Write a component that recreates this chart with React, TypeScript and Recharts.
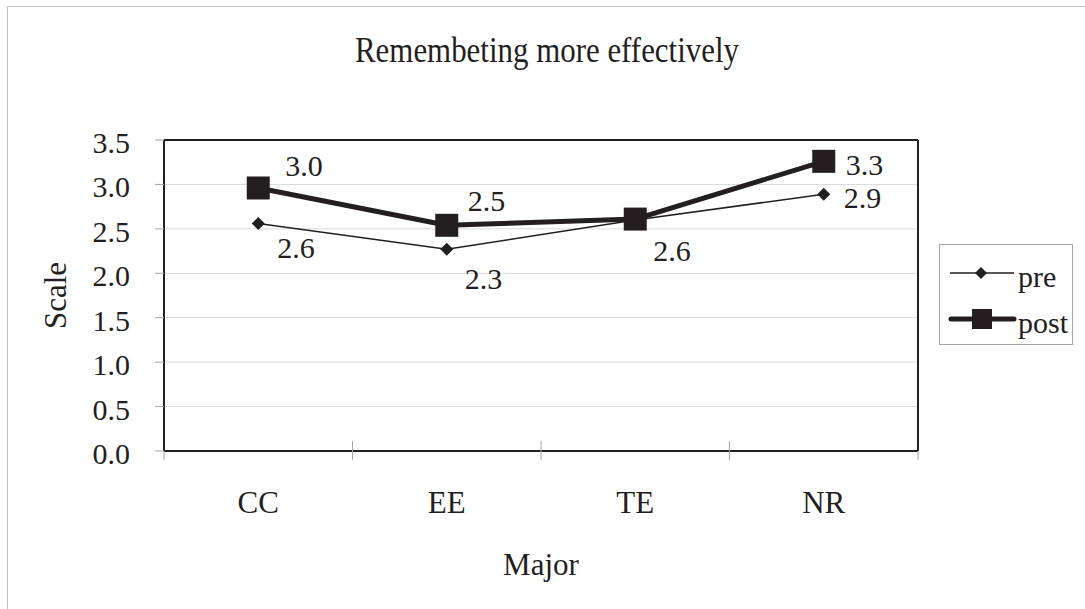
import React from 'react';
import { LineChart, Line, XAxis, YAxis, CartesianGrid, ReferenceLine, Legend, Label, LabelList } from 'recharts';

const categories = ['CC', 'EE', 'TE', 'NR'];
const preValues = [2.56, 2.27, 2.6, 2.89];
const postValues = [2.96, 2.54, 2.61, 3.26];
const preLabels = ['2.6', '2.3', '2.6', '2.9'];
const postLabels = ['3.0', '2.5', '', '3.3'];
const yTicks = [0, 0.5, 1, 1.5, 2, 2.5, 3, 3.5];
const seriesNames = ['pre', 'post'];
const titleText = 'Remembeting more effectively';
const xTitle = 'Major';
const yTitle = 'Scale';

const data = categories.map((c, i) => ({ cat: c, pos: i + 0.5, pre: preValues[i], post: postValues[i] }));
const xTickValues = categories.flatMap((_, i) => [i, i + 0.5]).concat([categories.length]);

const INK = '#231f20';
const FONT = '"Liberation Serif", "Times New Roman", serif';
const preOffsets = [[19, 34], [18, 40], [18, 41], [20, 14]];
const postOffsets = [[27, -12], [21, -14], [0, 0], [22, 14]];

const renderXTick = (p: any) => {
  const v = p.payload.value;
  const x = p.x;
  const y = p.y;
  if (Number.isInteger(v)) {
    const interior = v > 0 && v < categories.length;
    return <line x1={x} x2={x} y1={interior ? y - 10 : y} y2={y + 9} stroke="#a6a6a6" strokeWidth={1} />;
  }
  return (
    <text x={x} y={y + 62} textAnchor="middle" fontSize={31} fontFamily={FONT} fill={INK}>
      {categories[Math.floor(v)]}
    </text>
  );
};

const renderYTick = (p: any) => (
  <text x={p.x} y={p.y + 13} textAnchor="end" fontSize={30} fontFamily={FONT} fill={INK}>
    {Number(p.payload.value).toFixed(1)}
  </text>
);

const renderPreDot = (p: any) => {
  const { cx, cy, index } = p;
  const s = 6.5;
  return <polygon key={`pre-${index}`} points={`${cx},${cy - s} ${cx + s},${cy} ${cx},${cy + s} ${cx - s},${cy}`} fill={INK} />;
};

const renderPostDot = (p: any) => {
  const { cx, cy, index } = p;
  const s = 23;
  return <rect key={`post-${index}`} x={cx - s / 2} y={cy - s / 2} width={s} height={s} fill={INK} />;
};

const makeLabel = (labels: string[], offsets: number[][]) => (props: any) => {
  const idx = props.index;
  const text = labels[idx];
  if (!text) return null;
  const x = props.x ?? props.viewBox?.x;
  const y = props.y ?? props.viewBox?.y;
  const [dx, dy] = offsets[idx];
  return (
    <text x={x + dx} y={y + dy} textAnchor="start" fontSize={30} fontFamily={FONT} fill={INK}>
      {text}
    </text>
  );
};

const renderLegend = (props: any) => {
  const payload = props.payload && props.payload.length ? props.payload : seriesNames.map((n) => ({ value: n }));
  return (
    <div style={{ width: 134, height: 101, border: '1px solid #a6a6a6', boxSizing: 'border-box', background: '#fff' }}>
      <svg width={132} height={99} style={{ display: 'block' }}>
        {payload.map((entry: any) => {
          const name = String(entry.value);
          const isPost = name === 'post';
          const ly = isPost ? 74 : 28;
          return (
            <g key={name}>
              {isPost ? (
                <>
                  <line x1={11} x2={74} y1={ly} y2={ly} stroke={INK} strokeWidth={5} strokeLinecap="round" />
                  <rect x={42 - 10} y={ly - 10} width={20} height={20} fill={INK} />
                </>
              ) : (
                <>
                  <line x1={10} x2={74} y1={ly} y2={ly} stroke={INK} strokeWidth={1.5} />
                  <polygon points={`41,${ly - 6} 47,${ly} 41,${ly + 6} 35,${ly}`} fill={INK} />
                </>
              )}
              <text x={78} y={ly + 14} fontSize={30} fontFamily={FONT} fill={INK}>{name}</text>
            </g>
          );
        })}
      </svg>
    </div>
  );
};

const xLabel = (props: any) => {
  const vb = props.viewBox || { x: 164, y: 451, width: 754, height: 158 };
  return (
    <text x={vb.x + vb.width / 2} y={575} textAnchor="middle" fontSize={31} fontFamily={FONT} fill={INK}>
      {xTitle}
    </text>
  );
};

const yLabel = (props: any) => {
  const vb = props.viewBox || { x: 0, y: 140, width: 164, height: 311 };
  const cx = 66;
  const cy = vb.y + vb.height / 2;
  return (
    <text x={cx} y={cy} transform={`rotate(-90 ${cx} ${cy})`} textAnchor="middle" fontSize={31} fontFamily={FONT} fill={INK}>
      {yTitle}
    </text>
  );
};

export default function App() {
  return (
    <div style={{ position: 'absolute', left: 0, top: 0, width: 1085, height: 609, background: '#fff', overflow: 'hidden' }}>
      <div style={{ position: 'absolute', left: 7, top: 6, width: 1200, height: 700, borderLeft: '1px solid #c0c0c0', borderTop: '1px solid #c0c0c0' }} />
      <div style={{ position: 'absolute', left: 0, top: 0 }}>
        <LineChart width={1085} height={609} data={data} margin={{ top: 140, right: 167, bottom: 0, left: 0 }}>
          <CartesianGrid horizontal vertical={false} stroke="#d9d9d9" strokeWidth={1} />
          <XAxis
            type="number"
            dataKey="pos"
            domain={[0, categories.length]}
            ticks={xTickValues}
            interval={0}
            height={158}
            axisLine={{ stroke: INK, strokeWidth: 2 }}
            tickLine={false}
            tickSize={0}
            tickMargin={0}
            tick={renderXTick}
          >
            <Label content={xLabel} />
          </XAxis>
          <YAxis
            type="number"
            domain={[0, 3.5]}
            ticks={yTicks}
            interval={0}
            width={164}
            axisLine={{ stroke: INK, strokeWidth: 2 }}
            tickLine={{ stroke: '#a6a6a6' }}
            tickSize={9}
            tickMargin={25}
            tick={renderYTick}
          >
            <Label content={yLabel} />
          </YAxis>
          <ReferenceLine y={3.5} stroke={INK} strokeWidth={2} />
          <ReferenceLine x={categories.length} stroke={INK} strokeWidth={2} />
          <Line type="linear" dataKey="pre" name="pre" stroke={INK} strokeWidth={1.5} dot={renderPreDot} activeDot={false} isAnimationActive={false}>
            <LabelList dataKey="pre" content={makeLabel(preLabels, preOffsets)} />
          </Line>
          <Line type="linear" dataKey="post" name="post" stroke={INK} strokeWidth={5} strokeLinejoin="round" dot={renderPostDot} activeDot={false} isAnimationActive={false}>
            <LabelList dataKey="post" content={makeLabel(postLabels, postOffsets)} />
          </Line>
          <Legend
            layout="vertical"
            align="center"
            verticalAlign="middle"
            content={renderLegend}
            wrapperStyle={{ left: 939, top: 244, width: 134, height: 101, right: 'auto', bottom: 'auto' }}
          />
        </LineChart>
      </div>
      <svg width={1085} height={609} style={{ position: 'absolute', left: 0, top: 0, pointerEvents: 'none' }}>
        <text x={547} y={62} textAnchor="middle" fontSize={35} textLength={384} lengthAdjust="spacingAndGlyphs" fontFamily={FONT} fill={INK}>{titleText}</text>
      </svg>
    </div>
  );
}
